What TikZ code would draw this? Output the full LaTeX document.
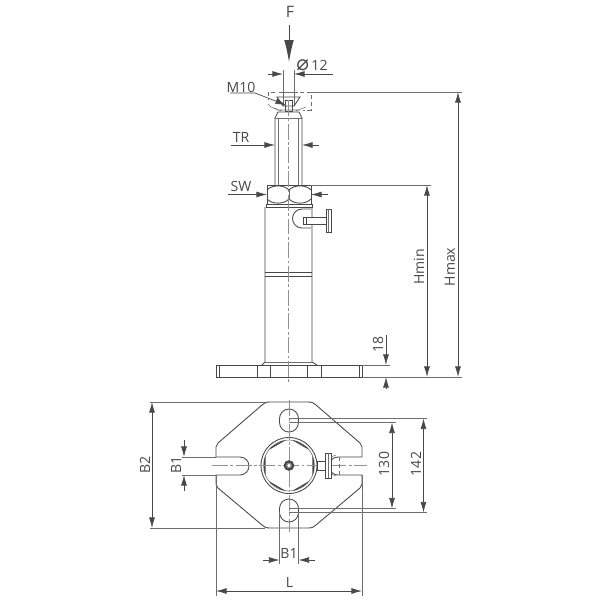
\documentclass[tikz,border=0pt]{standalone}
\usepackage{fontspec}
\setmainfont{Open Sans}
\newfontfamily\symfont{DejaVu Sans}
\usetikzlibrary{arrows.meta}
\definecolor{inkc}{HTML}{484848}
\tikzset{
  part/.style={draw=inkc,line width=0.5pt},
  fine/.style={draw=inkc!80,line width=0.3pt},
  extline/.style={draw=inkc!80,line width=0.35pt},
  dimline/.style={draw=inkc,line width=0.4pt,-{Latex[length=6pt,width=3.4pt]}},
  dimboth/.style={draw=inkc,line width=0.4pt,{Latex[length=6pt,width=3.4pt]}-{Latex[length=6pt,width=3.4pt]}},
  axisline/.style={draw=inkc!60,line width=0.3pt,dash pattern=on 9pt off 1.5pt on 1.5pt off 1.5pt},
  hidden/.style={draw=inkc!80,line width=0.35pt,dash pattern=on 2.5pt off 1.5pt},
  lab/.style={text=inkc,font=\fontsize{8}{9}\selectfont,inner sep=0pt}
}
\begin{document}
\begin{tikzpicture}[x=0.02cm,y=-0.02cm]
  \useasboundingbox (0,0) rectangle (600,600);
  % force arrow
  \node[lab,font=\fontsize{9}{10}\selectfont] (force) at (290,12) {F};
  \draw[inkc,line width=0.5pt,-{Latex[length=12.5pt,width=5.5pt]}] (289,25) -- (289,62);
  % side view: head
  \draw[hidden] (275,92) -- (268,92) -- (268,100);
  \draw[hidden] (300,92) -- (311,92) -- (311,110) -- (303,110);
  \draw[hidden] (268,104) -- (272,108) -- (277,109);
  \draw[extline] (283,70) -- (283,106);
  \draw[extline] (294,70) -- (294,106);
  \draw[part] (277,97) -- (300,97) -- (294,106) -- (283,106) -- cycle;
  \draw[fine] (279,92) -- (298,92);
  \draw[part] (285,100) rectangle (292,111);
  \draw[fine] (277,110) -- (300,110) (271,107) -- (281,111) (306,107) -- (296,111);
  % side view: screw
  \draw[part] (275,185) -- (275,118) -- (278,112) -- (299,112) -- (302,118) -- (302,185);
  \draw[fine] (278,118) -- (278,185) (298,118) -- (298,185) (275,118) -- (302,118);
  % side view: nut
  \draw[part] (267,185) rectangle (311,204);
  \draw[part] (267,190) .. controls (272,184.5) and (284,184.5) .. (289,190)
              .. controls (294,184.5) and (306,184.5) .. (311,190);
  \draw[part] (267,199) .. controls (272,204.5) and (284,204.5) .. (289,199)
              .. controls (294,204.5) and (306,204.5) .. (311,199);
  \draw[fine] (289,190) -- (289,199);
  \draw[part] (266,204) rectangle (312,207);
  % side view: body and base
  \draw[part] (265,207) -- (265,362) -- (262,365);
  \draw[part] (312,207) -- (312,362) -- (317,365);
  \draw[part] (265,272) -- (312,272) (265,276) -- (312,276);
  \draw[fine] (265,362) -- (312,362);
  \draw[part] (216,365) rectangle (362,377);
  \draw[part] (219,365) -- (219,377) (359,365) -- (359,377);
  \foreach \x in {257,270,307,321} \draw[part] (\x,365) -- (\x,377);
  \draw[axisline] (288.5,100) -- (288.5,383);
  % side view: clamping screw
  \draw[part] (311,209) -- (302,209) arc[start angle=270,end angle=90,radius=9.5] -- (311,228);
  \draw[part,fill=white] (303,217) rectangle (326,224);
  \draw[part] (303,217) rectangle (306,224);
  \draw[part,fill=white] (326,209) rectangle (331,232);
  \draw[fine] (328.5,209) -- (328.5,232);
  % plan view: plate
  \draw[part] (270,402) -- (308,402) .. controls (312,402) and (314,403) .. (316,405)
              -- (360,443) -- (362,447) -- (362,457) -- (338,457)
              arc[start angle=270,end angle=90,radius=9] -- (362,475) -- (362,484) -- (360,488)
              -- (316,525) .. controls (314,527) and (312,528) .. (308,528) -- (270,528)
              .. controls (266,528) and (264,527) .. (262,525)
              -- (218,488) -- (216,484) -- (216,475) -- (240,475)
              arc[start angle=90,end angle=-90,radius=9] -- (216,457) -- (216,447) -- (218,443)
              -- (262,405) .. controls (264,403) and (266,402) .. (270,402) -- cycle;
  % plan view: holes
  \foreach \y in {420.5,510.5} {
    \draw[part] (279.5,\y-2) -- (279.5,\y+2) arc[start angle=180,end angle=0,radius=9.5]
                -- (298.5,\y-2) arc[start angle=0,end angle=-180,radius=9.5];
  }
  % plan view: rings and hexagon
  \draw[part,fill=white] (289,465.5) circle[radius=28];
  \draw[fine] (289,465.5) circle[radius=25.5];
  \begin{scope}
    \clip (289,465.5) circle[radius=25.5];
    \draw[part,line width=0.8pt] (289,437.5) -- (313.2,451.5) -- (313.2,479.5) -- (289,493.5) -- (264.8,479.5) -- (264.8,451.5) -- cycle;
  \end{scope}
  \draw[axisline] (212,465.5) -- (367,465.5);
  \draw[axisline] (289,400) -- (289,532);
  \draw[inkc,line width=1.4pt,fill=white] (289,465.5) circle[radius=4];
  \draw[fine] (289,465.5) circle[radius=2];
  % plan view: clamping screw
  \draw[part,fill=white] (317,461) rectangle (325,470);
  \draw[part,fill=white] (325,453) rectangle (331,478);
  \draw[fine] (328,453) -- (328,478);
  \draw[fine] (331,457) -- (336,455) (331,474) -- (336,476);
  \draw[hidden] (339,457) -- (339,475);
  % dimensions: top
  \node[lab] (dia) at (312,65) {{\symfont\fontsize{12}{12}\selectfont ⌀}\,12};
  \draw[dimline] (268,74) -- (283,74);
  \draw[dimline] (333,74) -- (294,74);
  \node[lab] (mten) at (241,87) {M10};
  \draw[dimline] (230,93) -- (255,93) -- (286,105);
  \node[lab] (tr) at (241,137) {TR};
  \draw[dimline] (231,145) -- (275,145);
  \draw[dimline] (319,145) -- (302,145);
  \node[lab] (sw) at (241,186) {SW};
  \draw[dimline] (228,194.5) -- (267,194.5);
  \draw[dimline] (328,194.5) -- (311,194.5);
  % dimensions: heights
  \draw[extline] (311,92) -- (462,92);
  \draw[extline] (311,185) -- (431,185);
  \draw[extline] (362,365) -- (390,365);
  \draw[extline] (362,377) -- (462,377);
  \draw[dimboth] (458,92) -- (458,377);
  \draw[dimboth] (427,185) -- (427,377);
  \node[lab,rotate=90] (hmax) at (450,267) {Hmax};
  \node[lab,rotate=90] (hmin) at (419,267) {Hmin};
  \draw[dimline] (386,335) -- (386,365);
  \draw[dimline] (386,389) -- (386,377);
  \node[lab,rotate=90] (base) at (378,344) {18};
  % dimensions: plan view
  \draw[extline] (150,402) -- (265,402);
  \draw[extline] (150,528) -- (265,528);
  \draw[dimboth] (152,402) -- (152,528);
  \node[lab,rotate=90] (btwo) at (145,465) {B2};
  \draw[extline] (182,457) -- (216,457);
  \draw[extline] (182,475) -- (216,475);
  \draw[dimline] (184,440) -- (184,457);
  \draw[dimline] (184,491) -- (184,475);
  \node[lab,rotate=90] (bone) at (176,465) {B1};
  \draw[extline] (289,418.5) -- (427,418.5);
  \draw[extline] (289,422.5) -- (396,422.5);
  \draw[extline] (289,508.5) -- (396,508.5);
  \draw[extline] (289,512.5) -- (427,512.5);
  \draw[dimboth] (392,422.5) -- (392,508.5);
  \draw[dimboth] (423.5,418.5) -- (423.5,512.5);
  \node[lab,rotate=90] (bthirty) at (384,464) {130};
  \node[lab,rotate=90] (bforty) at (416,464) {142};
  \draw[extline] (279.5,512) -- (279.5,564);
  \draw[extline] (298.5,512) -- (298.5,564);
  \draw[dimline] (263,560) -- (279.5,560);
  \draw[dimline] (315,560) -- (298.5,560);
  \node[lab] (bwidth) at (289,553) {B1};
  \draw[extline] (216,475) -- (216,596);
  \draw[extline] (362,475) -- (362,596);
  \draw[dimboth] (216,591) -- (362,591);
  \node[lab] (len) at (289.5,582) {L};
\end{tikzpicture}
\end{document}
